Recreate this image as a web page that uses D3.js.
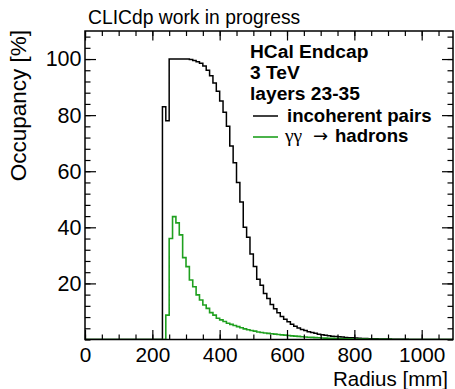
<!DOCTYPE html>
<html><head><meta charset="utf-8">
<script src="https://cdn.jsdelivr.net/npm/d3@7"></script>
<style>body{margin:0;background:#fff} svg{display:block}</style>
</head><body><svg id="c" width="455" height="389"></svg>
<script>
// ---- data ----
const binWidth = 10;            // mm
const histMax = 1100;           // mm
const pairsStart = 230;         // first non-empty bin (mm)
const pairsValues = [
  83, 78, 100, 100, 100, 100, 100, 100, 99.8, 99.5, 99, 98.5, 97.5, 96, 94, 91.5,
  88.5, 85, 81, 76, 69, 63, 56, 49, 40, 36.5, 30.5, 26, 21.5, 19.3, 16.4, 14.6,
  12.5, 11, 9.5, 8.2, 7.2, 6.3, 5.4, 4.7, 4.1, 3.6, 3.2, 2.8, 2.5, 2.2, 1.9, 1.7,
  1.5, 1.35, 1.2, 1.05, 0.95, 0.85, 0.75, 0.65, 0.6, 0.5, 0.45, 0.4, 0.35, 0.3, 0.28, 0.25,
  0.22, 0.2, 0.17, 0.15, 0.12, 0.1, 0.08, 0.06, 0.05, 0.04, 0.03, 0.02
];
const hadronsStart = 240;
const hadronsValues = [
  8.7, 36, 43.8, 41.6, 37.3, 29.2, 26, 21.2, 18.8, 15.9, 14.1, 12.3, 11.1, 9.6, 8.7, 7.6,
  7.0, 6.4, 5.8, 5.4, 5.0, 4.6, 4.2, 3.8, 3.5, 3.2, 3.0, 2.7, 2.5, 2.3, 2.2, 2.05,
  1.9, 1.8, 1.65, 1.55, 1.45, 1.3, 1.2, 1.1, 1.0, 0.9, 0.82, 0.75, 0.68, 0.62, 0.56, 0.5,
  0.45, 0.4, 0.36, 0.32, 0.28, 0.25, 0.22, 0.2, 0.18, 0.16, 0.14, 0.12, 0.1, 0.09, 0.08, 0.07,
  0.06, 0.05, 0.04
];
const xTicks = [0, 200, 400, 600, 800, 1000];
const yTicks = [20, 40, 60, 80, 100];
const xDomain = [0, 1093];
const yDomain = [0, 110];
const headerLines = ["HCal Endcap", "3 TeV", "layers 23-35"];
const seriesNames = ["incoherent pairs", "hadrons"];
const titleText = "CLICdp work in progress";
const xTitle = "Radius [mm]";
const yTitle = "Occupancy [%]";

// ---- layout ----
const L = 85, R = 453, T = 31, B = 339.5;
const svg = d3.select("#c");
const x = d3.scaleLinear().domain(xDomain).range([L, R]);
const y = d3.scaleLinear().domain(yDomain).range([B, T]);
const FONT = "'Liberation Sans', Arial, Helvetica, sans-serif";
const BLACK = "#000", GREEN = "#1fa01f";

svg.append("rect").attr("width", 455).attr("height", 389).attr("fill", "#fff");

svg.append("defs").append("clipPath").attr("id", "clip")
  .append("rect").attr("x", L).attr("y", T - 1).attr("width", R - L).attr("height", B - T + 1);

function histPoints(start, vals) {
  const nb = Math.round(histMax / binWidth);
  const pts = [];
  for (let i = 0; i < nb; i++) {
    const lo = i * binWidth;
    const k = Math.round((lo - start) / binWidth);
    const v = (k >= 0 && k < vals.length) ? vals[k] : 0;
    pts.push([lo, v]);
  }
  pts.push([histMax, pts[pts.length - 1][1]]);
  return pts;
}
const line = d3.line().x(d => x(d[0])).y(d => y(d[1])).curve(d3.curveStepAfter);

const g = svg.append("g").attr("clip-path", "url(#clip)");
g.append("path").attr("d", line(histPoints(pairsStart, pairsValues)))
  .attr("fill", "none").attr("stroke", BLACK).attr("stroke-width", 1.5);
g.append("path").attr("d", line(histPoints(hadronsStart, hadronsValues)))
  .attr("fill", "none").attr("stroke", GREEN).attr("stroke-width", 1.6);

// ---- axes (ticks inward, ROOT style) ----
const xMinor = d3.range(0, xDomain[1] + 1, 50);
const yMinor = d3.range(0, yDomain[1] + 0.1, 4);
function styleAxis(sel) {
  sel.select(".domain").remove();
  sel.selectAll("line").attr("stroke", "#000").attr("stroke-width", 1.2);
  sel.selectAll("text").attr("font-family", FONT).attr("font-size", 20.8).attr("fill", "#000");
}
svg.append("g").attr("transform", `translate(0,${B})`)
  .call(d3.axisBottom(x).tickValues(xMinor).tickSizeInner(-5).tickSizeOuter(0).tickFormat(""))
  .call(styleAxis);
svg.append("g").attr("transform", `translate(0,${B})`)
  .call(d3.axisBottom(x).tickValues(xTicks).tickSizeInner(-9.5).tickSizeOuter(0).tickPadding(8).tickFormat(d3.format("d")))
  .call(styleAxis);
svg.append("g").attr("transform", `translate(0,${T})`)
  .call(d3.axisTop(x).tickValues(xMinor).tickSizeInner(-5).tickSizeOuter(0).tickFormat(""))
  .call(styleAxis);
svg.append("g").attr("transform", `translate(0,${T})`)
  .call(d3.axisTop(x).tickValues(xTicks).tickSizeInner(-9.5).tickSizeOuter(0).tickFormat(""))
  .call(styleAxis);
svg.append("g").attr("transform", `translate(${L},0)`)
  .call(d3.axisLeft(y).tickValues(yMinor).tickSizeInner(-5.5).tickSizeOuter(0).tickFormat(""))
  .call(styleAxis);
svg.append("g").attr("transform", `translate(${L},0)`)
  .call(d3.axisLeft(y).tickValues(yTicks).tickSizeInner(-11).tickSizeOuter(0).tickPadding(3.5).tickFormat(d3.format("d")))
  .call(styleAxis)
  .call(s => s.selectAll("text").attr("font-size", 21.5));
svg.append("g").attr("transform", `translate(${R},0)`)
  .call(d3.axisRight(y).tickValues(yMinor).tickSizeInner(-5.5).tickSizeOuter(0).tickFormat(""))
  .call(styleAxis);
svg.append("g").attr("transform", `translate(${R},0)`)
  .call(d3.axisRight(y).tickValues(yTicks).tickSizeInner(-11).tickSizeOuter(0).tickFormat(""))
  .call(styleAxis);

// frame
svg.append("rect").attr("x", L).attr("y", T).attr("width", R - L).attr("height", B - T)
  .attr("fill", "none").attr("stroke", "#000").attr("stroke-width", 1.5);

// titles
svg.append("text").attr("x", 88).attr("y", 24).attr("font-family", FONT).attr("font-size", 19.3)
  .attr("fill", "#000").text(titleText);
svg.append("text").attr("x", 448).attr("y", 385.5).attr("text-anchor", "end")
  .attr("font-family", FONT).attr("font-size", 20.5).attr("fill", "#000").text(xTitle);
svg.append("text").attr("transform", "translate(26,30) rotate(-90)").attr("text-anchor", "end")
  .attr("font-family", FONT).attr("font-size", 22.5).attr("fill", "#000").text(yTitle);

// header + legend
const lx = 250, baseY = [58, 78.5, 99.5];
headerLines.forEach((t, i) => {
  svg.append("text").attr("x", lx).attr("y", baseY[i]).attr("font-family", FONT)
    .attr("font-size", 19.2).attr("font-weight", "bold").attr("fill", "#000").text(t);
});
const legY = [116, 137];
svg.append("line").attr("x1", 253).attr("x2", 278).attr("y1", legY[0]).attr("y2", legY[0])
  .attr("stroke", BLACK).attr("stroke-width", 1.5);
svg.append("line").attr("x1", 253).attr("x2", 278).attr("y1", legY[1]).attr("y2", legY[1])
  .attr("stroke", GREEN).attr("stroke-width", 1.6);
svg.append("text").attr("x", 287).attr("y", 121.5).attr("font-family", FONT)
  .attr("font-size", 18.6).attr("font-weight", "bold").attr("fill", "#000").text(seriesNames[0]);
svg.append("text").attr("x", 285).attr("y", 141.5)
  .attr("font-family", "'Liberation Serif', 'DejaVu Serif', serif").attr("font-size", 19.5)
  .attr("fill", "#000").text("γγ");
svg.append("text").attr("x", 320.5).attr("y", 141.5).attr("text-anchor", "middle")
  .attr("font-family", "'DejaVu Sans', sans-serif").attr("font-size", 18)
  .attr("fill", "#000").text("→");
svg.append("text").attr("x", 335).attr("y", 141.5).attr("font-family", FONT)
  .attr("font-size", 18.6).attr("font-weight", "bold").attr("fill", "#000").text(seriesNames[1]);
</script></body></html>
